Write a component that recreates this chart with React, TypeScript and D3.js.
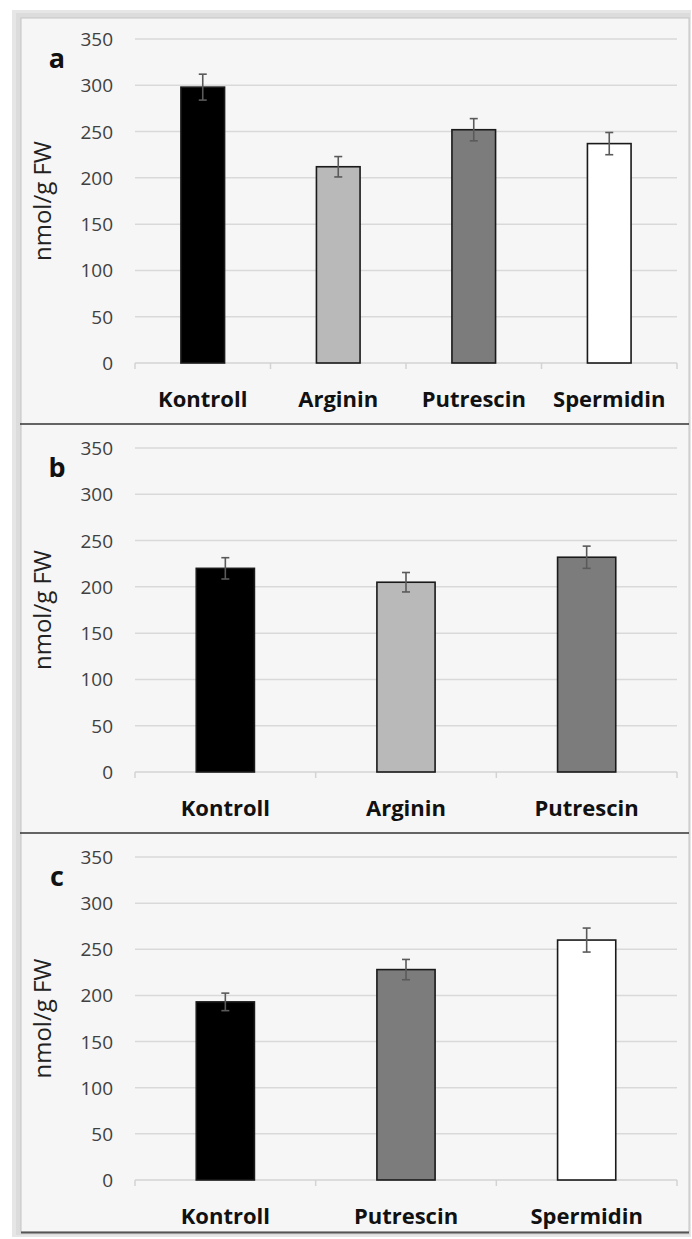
import React from "react";
import * as d3 from "d3";

const yTicks = [0, 50, 100, 150, 200, 250, 300, 350];

const catsA = ["Kontroll", "Arginin", "Putrescin", "Spermidin"];
const valsA = [298, 212, 252, 237];
const errsA = [14, 11, 12, 12];

const catsB = ["Kontroll", "Arginin", "Putrescin"];
const valsB = [220, 205, 232];
const errsB = [11.5, 10.5, 12];

const catsC = ["Kontroll", "Putrescin", "Spermidin"];
const valsC = [193, 228, 260];
const errsC = [9.5, 11, 13];

const fills: Record<string, string> = {
  Kontroll: "#000000",
  Arginin: "#b9b9b9",
  Putrescin: "#7c7c7c",
  Spermidin: "#ffffff",
};

const FONT = "'Open Sans', 'DejaVu Sans', sans-serif";
const X0 = 135;
const X1 = 677;

type PanelProps = {
  letter: string;
  cats: string[];
  vals: number[];
  errs: number[];
  top: number;
  bottom: number;
};

function Panel({ letter, cats, vals, errs, top, bottom }: PanelProps) {
  const x = d3.scaleBand<string>().domain(cats).range([X0, X1]).paddingInner(0).paddingOuter(0);
  const y = d3.scaleLinear().domain([0, 350]).range([bottom, top]);
  const bw = x.bandwidth() * 0.322;
  const boundaries = [...cats.map((c) => x(c) as number), X1];
  return (
    <g>
      {yTicks.filter((t) => t > 0).map((t) => (
        <line key={"g" + t} x1={X0} x2={X1} y1={y(t)} y2={y(t)} stroke="#d9d9d9" strokeWidth={1.5} />
      ))}
      <line x1={X0} x2={X1} y1={y(0)} y2={y(0)} stroke="#d3d3d3" strokeWidth={1.5} />
      {boundaries.map((b, i) => (
        <line key={"t" + i} x1={b} x2={b} y1={y(0)} y2={y(0) + 6} stroke="#d3d3d3" strokeWidth={1.5} />
      ))}
      {yTicks.map((t) => (
        <text key={"l" + t} x={113} y={y(t)} textAnchor="end" dominantBaseline="central" fontFamily={FONT} fontSize={19} fill="#404040">
          {t}
        </text>
      ))}
      {cats.map((c, i) => {
        const cx = (x(c) as number) + x.bandwidth() / 2;
        return (
          <g key={c}>
            <rect x={cx - bw / 2} y={y(vals[i])} width={bw} height={y(0) - y(vals[i])} fill={fills[c]} stroke="#1a1a1a" strokeWidth={1.6} />
            <line x1={cx} x2={cx} y1={y(vals[i] + errs[i])} y2={y(vals[i] - errs[i])} stroke="#5a5a5a" strokeWidth={1.6} />
            <line x1={cx - 4} x2={cx + 4} y1={y(vals[i] + errs[i])} y2={y(vals[i] + errs[i])} stroke="#5a5a5a" strokeWidth={1.6} />
            <line x1={cx - 4} x2={cx + 4} y1={y(vals[i] - errs[i])} y2={y(vals[i] - errs[i])} stroke="#5a5a5a" strokeWidth={1.6} />
            <text x={cx} y={y(0) + 35} textAnchor="middle" dominantBaseline="central" fontFamily={FONT} fontSize={22} fontWeight="bold" fill="#111">
              {c}
            </text>
          </g>
        );
      })}
      <text x={57} y={top + 18} textAnchor="middle" dominantBaseline="central" fontFamily={FONT} fontSize={27} fontWeight="bold" fill="#111">
        {letter}
      </text>
      <text
        transform={`translate(41,${(top + bottom) / 2}) rotate(-90)`}
        textAnchor="middle"
        dominantBaseline="central"
        fontFamily={FONT}
        fontSize={24}
        fill="#222"
      >
        nmol/g FW
      </text>
    </g>
  );
}

export default function App() {
  return (
    <svg width={692} height={1239} style={{ position: "absolute", left: 0, top: 0, background: "#fff" }}>
      <rect x={0} y={0} width={692} height={1239} fill="#ffffff" />
      <rect x={12} y={10} width={679} height={1227} fill="#e6e6e6" />
      <rect x={16} y={13} width={674} height={1222} fill="#dcdcdc" />
      <rect x={21} y={18} width={668} height={1214} fill="#f6f6f6" stroke="#c4c4c4" strokeWidth={1} />
      <line x1={21} x2={689} y1={1232.5} y2={1232.5} stroke="#555" strokeWidth={2} />
      <line x1={20} x2={689} y1={424} y2={424} stroke="#333" strokeWidth={1.5} />
      <line x1={20} x2={689} y1={833} y2={833} stroke="#333" strokeWidth={1.5} />
      <Panel letter="a" cats={catsA} vals={valsA} errs={errsA} top={39} bottom={363} />
      <Panel letter="b" cats={catsB} vals={valsB} errs={errsB} top={448} bottom={772} />
      <Panel letter="c" cats={catsC} vals={valsC} errs={errsC} top={857} bottom={1180} />
    </svg>
  );
}
